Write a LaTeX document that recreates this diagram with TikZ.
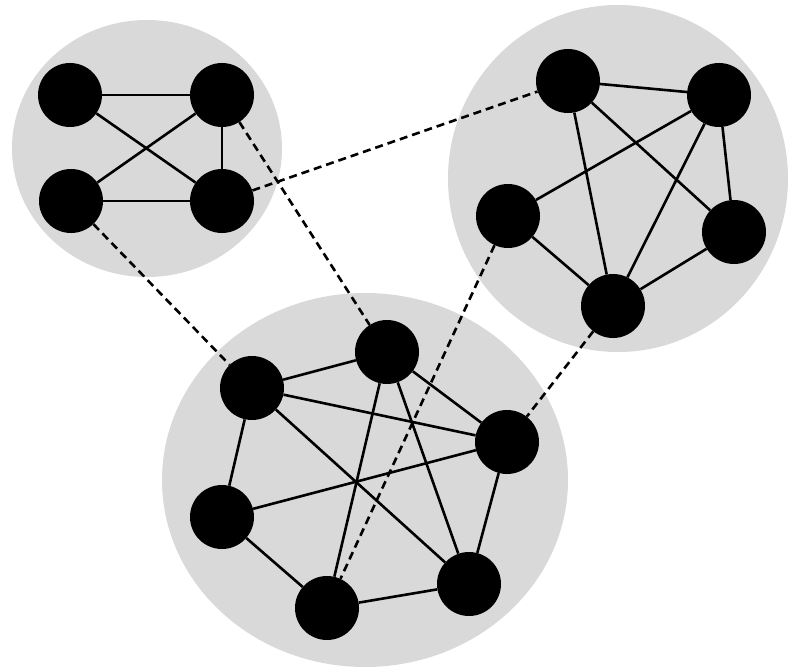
\documentclass[tikz,border=0pt]{standalone}
\definecolor{blobgray}{RGB}{217,217,217}
\begin{document}
\begin{tikzpicture}[x=1pt,y=-1pt,
  vtx/.style={circle,fill=black,draw=none,minimum size=64pt,inner sep=0pt},
  edge/.style={line width=2.6pt,black},
  link/.style={line width=2.6pt,black,dash pattern=on 8pt off 5pt}]
\useasboundingbox (0,0) rectangle (788,669);
% gray groups
\fill[blobgray] (147,148.5) ellipse [x radius=135, y radius=128.5];
\fill[blobgray] (618,178.5) ellipse [x radius=170, y radius=173.5];
\fill[blobgray] (365,480) ellipse [x radius=203, y radius=187];
% top-left group
\node[vtx] (a1) at (70,95) {};
\node[vtx] (a2) at (222,95) {};
\node[vtx] (a3) at (71,201) {};
\node[vtx] (a4) at (222,201) {};
% top-right group
\node[vtx] (b1) at (568,81) {};
\node[vtx] (b2) at (719,95) {};
\node[vtx] (b3) at (508,216) {};
\node[vtx] (b4) at (734,232) {};
\node[vtx] (b5) at (613,306) {};
% bottom group
\node[vtx] (c1) at (252,388) {};
\node[vtx] (c2) at (387,352) {};
\node[vtx] (c3) at (507,442) {};
\node[vtx] (c4) at (222,517) {};
\node[vtx] (c5) at (469,584) {};
\node[vtx] (c6) at (327,608) {};
% edges top-left
\draw[edge] (a1) -- (a2);
\draw[edge] (a3) -- (a4);
\draw[edge] (a1) -- (a4);
\draw[edge] (a3) -- (a2);
\draw[edge] (a2) -- (a4);
% edges top-right
\draw[edge] (b1) -- (b2);
\draw[edge] (b1) -- (b5);
\draw[edge] (b1) -- (b4);
\draw[edge] (b2) -- (b3);
\draw[edge] (b2) -- (b5);
\draw[edge] (b2) -- (b4);
\draw[edge] (b3) -- (b5);
\draw[edge] (b4) -- (b5);
% edges bottom
\draw[edge] (c1) -- (c2);
\draw[edge] (c1) -- (c3);
\draw[edge] (c1) -- (c4);
\draw[edge] (c1) -- (c5);
\draw[edge] (c2) -- (c3);
\draw[edge] (c2) -- (c6);
\draw[edge] (c2) -- (c5);
\draw[edge] (c3) -- (c4);
\draw[edge] (c3) -- (c5);
\draw[edge] (c4) -- (c6);
\draw[edge] (c6) -- (c5);
% dashed links between groups
\draw[link] (a2) -- (c2);
\draw[link] (a4) -- (b1);
\draw[link] (a3) -- (c1);
\draw[link] (b3) -- (c6);
\draw[link] (b5) -- (c3);
\end{tikzpicture}
\end{document}
